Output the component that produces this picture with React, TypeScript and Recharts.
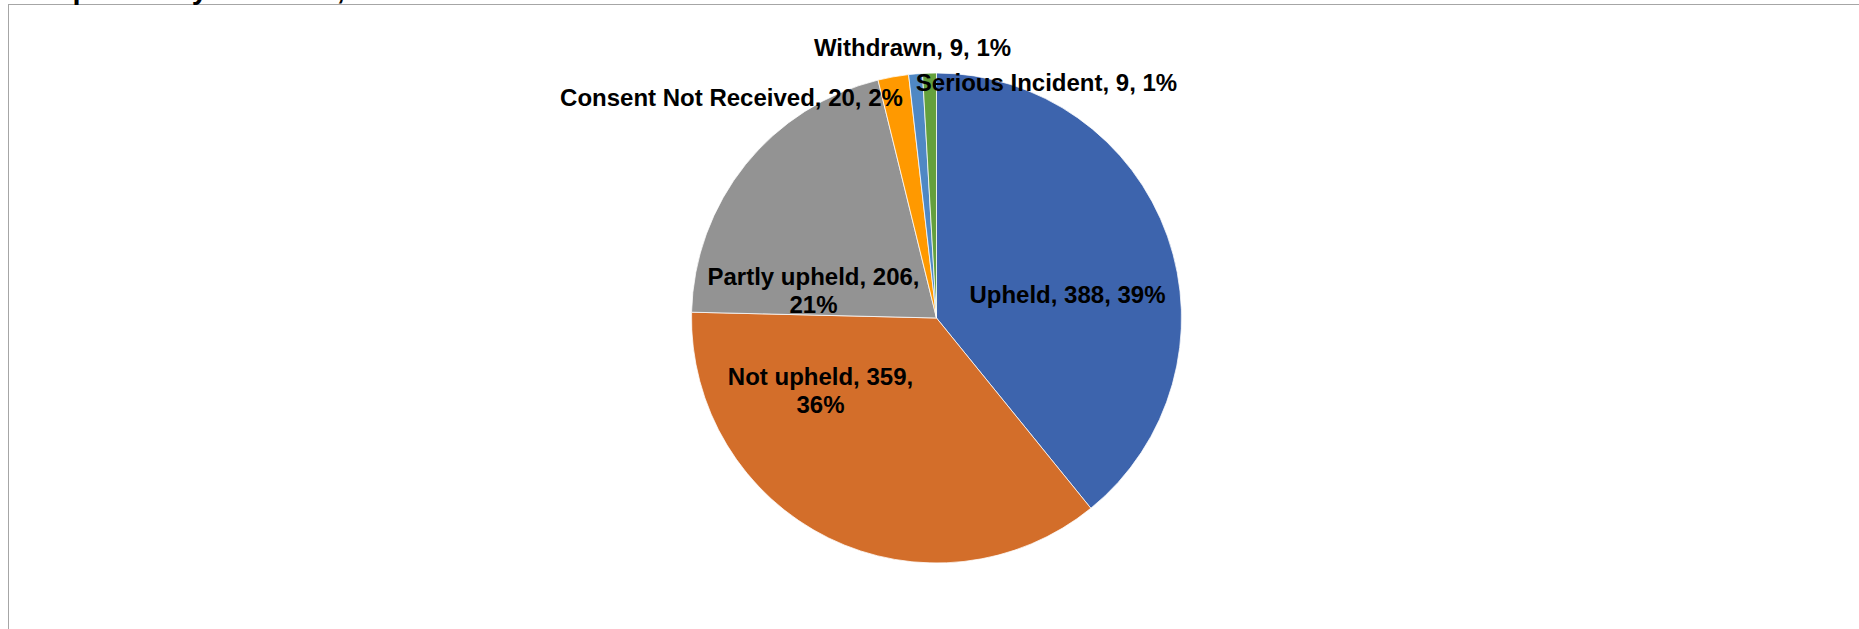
import { PieChart, Pie, Cell } from 'recharts'

const CATEGORIES = ['Upheld', 'Not upheld', 'Partly upheld', 'Consent Not Received', 'Withdrawn', 'Serious Incident']
const VALUES = [388, 359, 206, 20, 9, 9]
const COLORS = ['#3D64AD', '#D36E2A', '#939393', '#FF9900', '#4F88C4', '#64A03C']

// where excel's "best fit" put each label, relative to the pie centre
const LABEL_OFFSETS: Record<string, [number, number]> = {
  'Upheld': [131, -24],
  'Not upheld': [-116, 72],
  'Partly upheld': [-123, -28],
  'Consent Not Received': [-205, -221],
  'Withdrawn': [-24, -271],
  'Serious Incident': [110, -236],
}
const WRAPPED = ['Not upheld', 'Partly upheld']

const FONT = '"Liberation Sans", Arial, sans-serif'

const data = CATEGORIES.map((name, i) => ({ name, value: VALUES[i] }))

function renderLabel(props: any) {
  const { cx, cy, name, value, percent } = props
  const [dx, dy] = LABEL_OFFSETS[name] || [0, 0]
  const pct = `${Math.round((percent || 0) * 100)}%`
  const x = cx + dx
  const y = cy + dy
  const common = {
    x,
    textAnchor: 'middle' as const,
    dominantBaseline: 'central' as const,
    fill: '#000',
    fontFamily: FONT,
    fontWeight: 700,
    fontSize: 24,
  }
  if (WRAPPED.includes(name)) {
    return (
      <text {...common} y={y}>
        <tspan x={x} y={y - 13.75}>{`${name}, ${value},`}</tspan>
        <tspan x={x} y={y + 13.75}>{pct}</tspan>
      </text>
    )
  }
  return (
    <text {...common} y={y}>
      {`${name}, ${value}, ${pct}`}
    </text>
  )
}

export default function App() {
  return (
    <div style={{ position: 'absolute', left: 0, top: 0, width: 1859, height: 629, overflow: 'hidden', background: '#fff' }}>
      <div
        style={{
          position: 'absolute',
          left: 8,
          top: 4,
          width: 2000,
          height: 1000,
          border: '1.5px solid #a6a6a6',
        }}
      />
      <svg width={1859} height={629} style={{ position: 'absolute', left: 0, top: 0 }}>
        <text x={8} y={-1.3} fontFamily={FONT} fontWeight={700} fontSize={29} fill="#000">
          Complaints by outcome,
        </text>
      </svg>
      <div style={{ position: 'absolute', left: 0, top: 0 }}>
        <PieChart width={1859} height={629} margin={{ top: 0, right: 0, bottom: 0, left: 0 }}>
          <Pie
            data={data}
            dataKey="value"
            nameKey="name"
            cx={936.5}
            cy={318}
            outerRadius={245}
            startAngle={90}
            endAngle={-270}
            stroke="#fff"
            strokeWidth={0.75}
            labelLine={false}
            label={renderLabel}
            isAnimationActive={false}
          >
            {data.map((_entry, index) => (
              <Cell key={`cell-${index}`} fill={COLORS[index % COLORS.length]} />
            ))}
          </Pie>
        </PieChart>
      </div>
    </div>
  )
}
